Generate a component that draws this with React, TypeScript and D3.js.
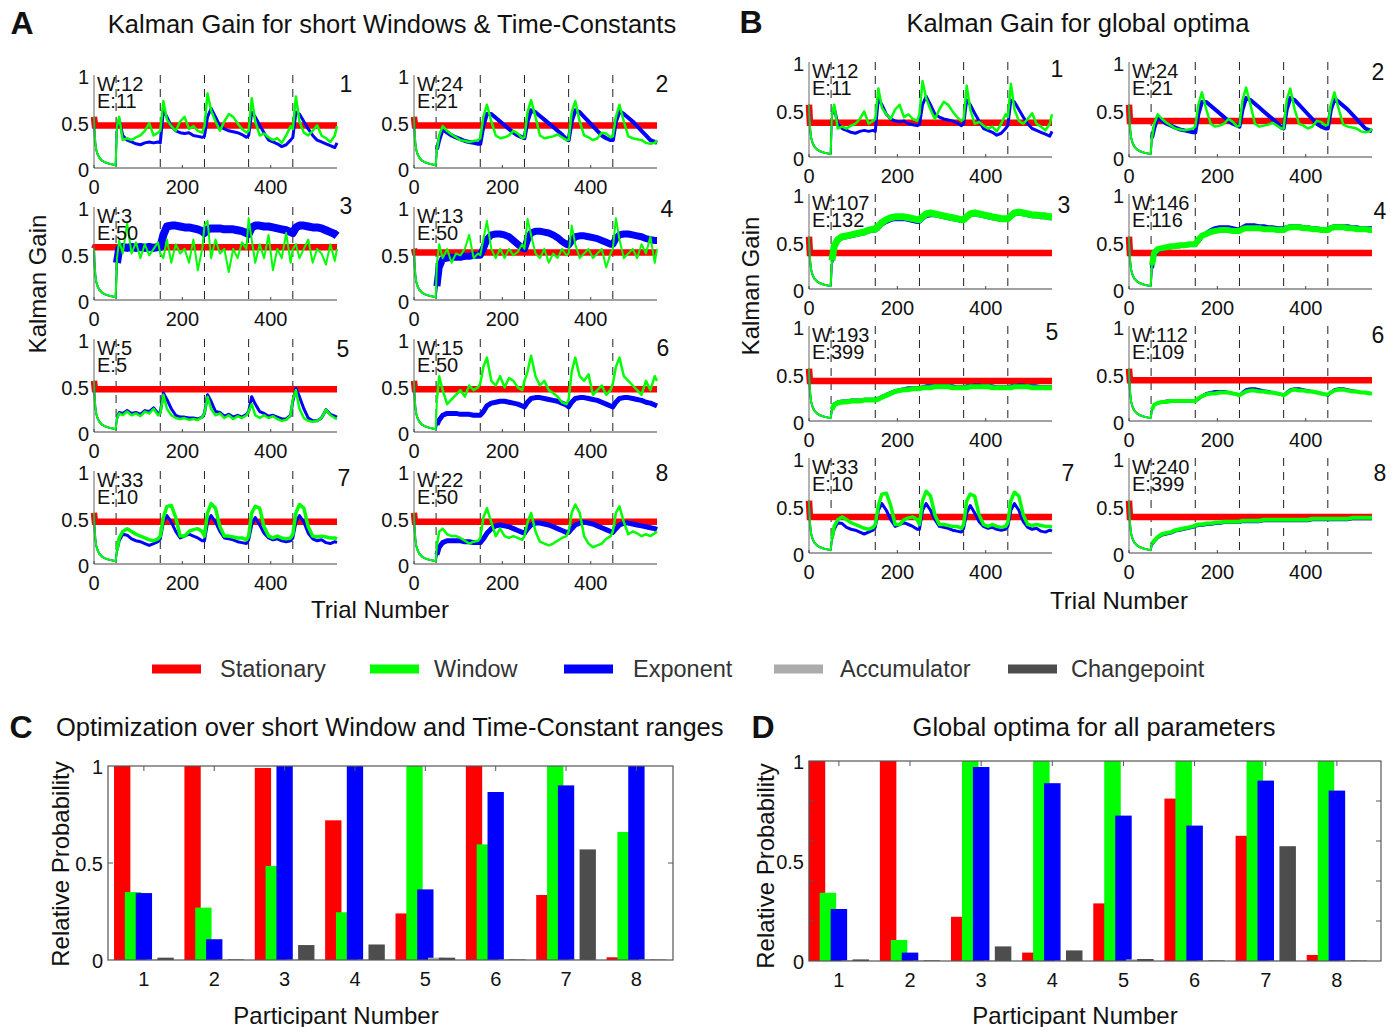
import React from 'react';
import * as d3 from 'd3';

const FONT = '"Liberation Sans", Arial, Helvetica, sans-serif';
const COL_STAT = '#ff0000';
const COL_WIN = '#00ff00';
const COL_EXP = '#0000ff';
const COL_ACC = '#acacac';
const COL_CP = '#4d4d4d';

// ---------- time-series data ----------
const TRIAL_MAX = 550;
const CHANGE_POINTS = [50, 150, 250, 350, 450];
const X_TICKS = [0, 200, 400];
const Y_TICKS = [0, 0.5, 1];
const Y_TICK_LABELS = ['0', '0.5', '1'];

const INIT_TRIALS = [0, 1, 2, 3, 5, 8, 12, 18, 25, 35, 49];
const INIT_GAIN = [0.55, 0.42, 0.33, 0.27, 0.2, 0.15, 0.11, 0.08, 0.06, 0.045, 0.03];
const STAT_START = 0.55;

const BLOCK_TRIALS = [
  52, 57, 65, 75, 85, 95, 105, 115, 125, 135, 145, 150,
  157, 165, 175, 185, 195, 205, 215, 225, 235, 245, 250,
  257, 265, 275, 285, 295, 305, 315, 325, 335, 345, 350,
  357, 365, 375, 385, 395, 405, 415, 425, 435, 445, 450,
  457, 465, 475, 485, 495, 505, 515, 525, 535, 545, 550,
];

const A_PARAMS = [['W:12', 'E:11'], ['W:24', 'E:21'], ['W:3', 'E:50'], ['W:13', 'E:50'], ['W:5', 'E:5'], ['W:15', 'E:50'], ['W:33', 'E:10'], ['W:22', 'E:50']];
const B_PARAMS = [['W:12', 'E:11'], ['W:24', 'E:21'], ['W:107', 'E:132'], ['W:146', 'E:116'], ['W:193', 'E:399'], ['W:112', 'E:109'], ['W:33', 'E:10'], ['W:240', 'E:399']];

const A_STATIONARY = [0.457, 0.457, 0.567, 0.51, 0.46, 0.46, 0.454, 0.454];
const B_STATIONARY = [0.36, 0.38, 0.38, 0.38, 0.42, 0.43, 0.38, 0.38];

const WIN_12 = [
  0.45, 0.55, 0.30, 0.32, 0.30, 0.33, 0.35, 0.40, 0.48, 0.35, 0.38, 0.40,
  0.72, 0.52, 0.45, 0.40, 0.50, 0.55, 0.42, 0.45, 0.40, 0.38, 0.45,
  0.80, 0.62, 0.50, 0.40, 0.50, 0.58, 0.55, 0.48, 0.42, 0.38, 0.40,
  0.75, 0.50, 0.35, 0.37, 0.33, 0.30, 0.32, 0.27, 0.35, 0.45, 0.42,
  0.77, 0.50, 0.38, 0.35, 0.40, 0.46, 0.35, 0.32, 0.28, 0.35, 0.45,
];
const EXP_11 = [
  0.45, 0.52, 0.35, 0.30, 0.28, 0.26, 0.25, 0.27, 0.28, 0.27, 0.28, 0.27,
  0.62, 0.55, 0.45, 0.40, 0.38, 0.37, 0.38, 0.35, 0.34, 0.33, 0.34,
  0.55, 0.64, 0.55, 0.45, 0.42, 0.40, 0.39, 0.38, 0.36, 0.33, 0.35,
  0.60, 0.55, 0.46, 0.38, 0.30, 0.28, 0.26, 0.23, 0.25, 0.30, 0.33,
  0.60, 0.58, 0.50, 0.42, 0.35, 0.30, 0.28, 0.26, 0.24, 0.22, 0.27,
];
const WIN_24 = [
  0.20, 0.35, 0.45, 0.40, 0.36, 0.33, 0.30, 0.29, 0.28, 0.29, 0.30, 0.32,
  0.55, 0.68, 0.50, 0.35, 0.32, 0.33, 0.35, 0.40, 0.37, 0.32, 0.33,
  0.60, 0.73, 0.55, 0.35, 0.32, 0.33, 0.34, 0.36, 0.33, 0.30, 0.30,
  0.60, 0.72, 0.50, 0.35, 0.33, 0.30, 0.32, 0.38, 0.37, 0.33, 0.34,
  0.55, 0.68, 0.50, 0.34, 0.32, 0.31, 0.30, 0.27, 0.26, 0.27, 0.30,
];
const EXP_21 = [
  0.20, 0.30, 0.42, 0.38, 0.35, 0.33, 0.31, 0.29, 0.28, 0.27, 0.26, 0.26,
  0.45, 0.58, 0.58, 0.54, 0.50, 0.46, 0.42, 0.38, 0.35, 0.33, 0.32,
  0.50, 0.62, 0.60, 0.56, 0.52, 0.48, 0.44, 0.40, 0.36, 0.31, 0.30,
  0.50, 0.62, 0.60, 0.55, 0.50, 0.45, 0.40, 0.35, 0.32, 0.30, 0.30,
  0.50, 0.61, 0.58, 0.54, 0.50, 0.45, 0.40, 0.35, 0.30, 0.28, 0.27,
];
const WIN_3 = [
  0.45, 0.64, 0.50, 0.83, 0.50, 0.62, 0.45, 0.60, 0.48, 0.55, 0.62, 0.50,
  0.45, 0.65, 0.40, 0.60, 0.50, 0.55, 0.40, 0.65, 0.32, 0.55, 0.80,
  0.85, 0.45, 0.65, 0.50, 0.55, 0.30, 0.55, 0.45, 0.62, 0.55, 0.88,
  0.65, 0.40, 0.60, 0.45, 0.70, 0.32, 0.55, 0.45, 0.72, 0.40, 0.55,
  0.60, 0.45, 0.55, 0.65, 0.40, 0.55, 0.50, 0.38, 0.60, 0.42, 0.55,
];
const EXP_50_P3 = [
  0.40, 0.55, 0.57, 0.56, 0.57, 0.56, 0.57, 0.56, 0.57, 0.56, 0.57, 0.57,
  0.70, 0.79, 0.80, 0.80, 0.79, 0.78, 0.78, 0.77, 0.76, 0.74, 0.72,
  0.76, 0.77, 0.77, 0.77, 0.76, 0.76, 0.76, 0.75, 0.74, 0.72, 0.71,
  0.78, 0.80, 0.80, 0.79, 0.79, 0.78, 0.77, 0.76, 0.75, 0.73, 0.72,
  0.78, 0.80, 0.80, 0.79, 0.78, 0.78, 0.77, 0.75, 0.73, 0.71, 0.69,
];
const WIN_13 = [
  0.40, 0.60, 0.45, 0.55, 0.40, 0.50, 0.48, 0.55, 0.70, 0.45, 0.50, 0.48,
  0.65, 0.85, 0.55, 0.45, 0.55, 0.45, 0.55, 0.48, 0.52, 0.60, 0.55,
  0.87, 0.70, 0.50, 0.45, 0.55, 0.40, 0.50, 0.45, 0.55, 0.48, 0.50,
  0.80, 0.60, 0.45, 0.50, 0.55, 0.45, 0.50, 0.55, 0.35, 0.50, 0.55,
  0.88, 0.65, 0.45, 0.50, 0.55, 0.45, 0.60, 0.50, 0.68, 0.40, 0.55,
];
const EXP_50_P4 = [
  0.15, 0.35, 0.44, 0.45, 0.46, 0.46, 0.46, 0.47, 0.47, 0.48, 0.48, 0.48,
  0.55, 0.65, 0.70, 0.71, 0.71, 0.70, 0.68, 0.64, 0.60, 0.56, 0.55,
  0.65, 0.72, 0.74, 0.74, 0.73, 0.72, 0.70, 0.67, 0.63, 0.60, 0.59,
  0.64, 0.68, 0.69, 0.69, 0.68, 0.67, 0.66, 0.64, 0.62, 0.60, 0.60,
  0.66, 0.70, 0.71, 0.71, 0.70, 0.69, 0.68, 0.66, 0.65, 0.64, 0.64,
];
const WIN_5 = [
  0.15, 0.20, 0.18, 0.22, 0.18, 0.20, 0.17, 0.22, 0.20, 0.25, 0.18, 0.20,
  0.40, 0.25, 0.18, 0.15, 0.14, 0.15, 0.13, 0.14, 0.13, 0.16, 0.20,
  0.38, 0.25, 0.18, 0.20, 0.15, 0.18, 0.14, 0.17, 0.15, 0.18, 0.22,
  0.30, 0.18, 0.15, 0.18, 0.15, 0.17, 0.14, 0.12, 0.13, 0.18, 0.35,
  0.45, 0.25, 0.15, 0.12, 0.11, 0.12, 0.15, 0.24, 0.18, 0.15, 0.14,
];
const EXP_5 = [
  0.15, 0.21, 0.20, 0.23, 0.20, 0.21, 0.19, 0.23, 0.22, 0.26, 0.20, 0.21,
  0.42, 0.35, 0.25, 0.18, 0.16, 0.16, 0.15, 0.15, 0.14, 0.16, 0.20,
  0.40, 0.33, 0.22, 0.21, 0.17, 0.19, 0.16, 0.18, 0.16, 0.19, 0.22,
  0.38, 0.30, 0.22, 0.20, 0.17, 0.18, 0.16, 0.14, 0.14, 0.18, 0.33,
  0.47, 0.38, 0.25, 0.15, 0.12, 0.12, 0.15, 0.24, 0.19, 0.17, 0.16,
];
const WIN_15 = [
  0.35, 0.60, 0.45, 0.30, 0.35, 0.40, 0.45, 0.38, 0.50, 0.45, 0.48, 0.52,
  0.70, 0.80, 0.55, 0.50, 0.60, 0.48, 0.58, 0.55, 0.48, 0.45, 0.55,
  0.65, 0.82, 0.60, 0.50, 0.55, 0.45, 0.42, 0.38, 0.32, 0.30, 0.35,
  0.65, 0.80, 0.60, 0.55, 0.62, 0.40, 0.45, 0.50, 0.40, 0.45, 0.52,
  0.70, 0.80, 0.60, 0.55, 0.50, 0.45, 0.40, 0.55, 0.45, 0.60, 0.55,
];
const EXP_50_P6 = [
  0.08, 0.13, 0.18, 0.20, 0.20, 0.20, 0.19, 0.19, 0.19, 0.18, 0.18, 0.18,
  0.22, 0.28, 0.31, 0.32, 0.33, 0.33, 0.32, 0.31, 0.30, 0.28, 0.27,
  0.32, 0.36, 0.37, 0.37, 0.36, 0.35, 0.34, 0.33, 0.31, 0.29, 0.27,
  0.32, 0.36, 0.37, 0.37, 0.36, 0.35, 0.34, 0.32, 0.30, 0.28, 0.27,
  0.32, 0.36, 0.37, 0.37, 0.36, 0.35, 0.34, 0.32, 0.31, 0.29, 0.28,
];
const WIN_33 = [
  0.15, 0.28, 0.35, 0.38, 0.35, 0.32, 0.30, 0.28, 0.26, 0.25, 0.27, 0.30,
  0.50, 0.62, 0.63, 0.50, 0.30, 0.30, 0.35, 0.37, 0.38, 0.35, 0.30,
  0.55, 0.65, 0.60, 0.40, 0.30, 0.30, 0.29, 0.28, 0.28, 0.26, 0.30,
  0.55, 0.62, 0.60, 0.40, 0.30, 0.28, 0.30, 0.28, 0.27, 0.28, 0.32,
  0.55, 0.64, 0.60, 0.40, 0.30, 0.29, 0.30, 0.29, 0.28, 0.28, 0.27,
];
const EXP_10 = [
  0.15, 0.25, 0.32, 0.31, 0.27, 0.25, 0.24, 0.22, 0.20, 0.22, 0.24, 0.27,
  0.45, 0.52, 0.45, 0.35, 0.28, 0.30, 0.32, 0.30, 0.28, 0.25, 0.25,
  0.45, 0.52, 0.45, 0.35, 0.28, 0.27, 0.26, 0.24, 0.23, 0.22, 0.26,
  0.42, 0.50, 0.42, 0.33, 0.28, 0.26, 0.27, 0.25, 0.24, 0.25, 0.28,
  0.45, 0.52, 0.45, 0.33, 0.27, 0.25, 0.26, 0.23, 0.22, 0.24, 0.23,
];
const WIN_22 = [
  0.20, 0.35, 0.38, 0.32, 0.30, 0.30, 0.28, 0.25, 0.22, 0.24, 0.25, 0.28,
  0.50, 0.60, 0.45, 0.30, 0.38, 0.30, 0.28, 0.30, 0.28, 0.26, 0.30,
  0.45, 0.55, 0.35, 0.24, 0.22, 0.20, 0.22, 0.25, 0.28, 0.30, 0.35,
  0.55, 0.64, 0.55, 0.30, 0.22, 0.18, 0.20, 0.22, 0.27, 0.30, 0.35,
  0.55, 0.62, 0.45, 0.32, 0.35, 0.33, 0.30, 0.32, 0.30, 0.33, 0.35,
];
const EXP_50_P8 = [
  0.10, 0.18, 0.23, 0.25, 0.25, 0.25, 0.25, 0.24, 0.24, 0.23, 0.23, 0.23,
  0.27, 0.33, 0.38, 0.41, 0.42, 0.41, 0.40, 0.38, 0.36, 0.34, 0.33,
  0.38, 0.42, 0.44, 0.44, 0.43, 0.42, 0.40, 0.38, 0.36, 0.34, 0.34,
  0.38, 0.42, 0.44, 0.45, 0.44, 0.43, 0.41, 0.39, 0.37, 0.35, 0.34,
  0.38, 0.42, 0.44, 0.44, 0.43, 0.42, 0.41, 0.40, 0.39, 0.38, 0.37,
];
const WIN_107 = [
  0.30, 0.45, 0.52, 0.55, 0.56, 0.57, 0.58, 0.59, 0.60, 0.62, 0.63, 0.63,
  0.66, 0.70, 0.73, 0.75, 0.76, 0.76, 0.76, 0.75, 0.74, 0.73, 0.73,
  0.76, 0.79, 0.80, 0.79, 0.78, 0.77, 0.76, 0.75, 0.74, 0.73, 0.73,
  0.76, 0.79, 0.80, 0.79, 0.78, 0.77, 0.76, 0.75, 0.74, 0.74, 0.74,
  0.77, 0.80, 0.81, 0.80, 0.79, 0.78, 0.78, 0.77, 0.77, 0.76, 0.76,
];
const EXP_132 = [
  0.28, 0.42, 0.50, 0.53, 0.54, 0.55, 0.56, 0.57, 0.58, 0.60, 0.61, 0.61,
  0.63, 0.67, 0.70, 0.72, 0.73, 0.73, 0.73, 0.72, 0.71, 0.70, 0.70,
  0.73, 0.76, 0.77, 0.77, 0.76, 0.75, 0.74, 0.73, 0.72, 0.71, 0.71,
  0.74, 0.77, 0.78, 0.77, 0.76, 0.75, 0.74, 0.73, 0.72, 0.72, 0.72,
  0.75, 0.78, 0.79, 0.78, 0.77, 0.76, 0.76, 0.75, 0.75, 0.74, 0.74,
];
const WIN_146 = [
  0.25, 0.38, 0.42, 0.43, 0.44, 0.45, 0.45, 0.46, 0.46, 0.47, 0.47, 0.47,
  0.52, 0.56, 0.58, 0.60, 0.61, 0.62, 0.62, 0.62, 0.61, 0.61, 0.61,
  0.63, 0.64, 0.64, 0.64, 0.64, 0.63, 0.63, 0.63, 0.62, 0.62, 0.62,
  0.64, 0.65, 0.65, 0.65, 0.64, 0.64, 0.63, 0.63, 0.62, 0.62, 0.62,
  0.64, 0.65, 0.65, 0.65, 0.64, 0.64, 0.63, 0.63, 0.63, 0.62, 0.62,
];
const EXP_116 = [
  0.22, 0.35, 0.40, 0.42, 0.43, 0.44, 0.45, 0.45, 0.46, 0.46, 0.47, 0.47,
  0.50, 0.55, 0.59, 0.62, 0.64, 0.65, 0.65, 0.65, 0.64, 0.63, 0.63,
  0.65, 0.67, 0.67, 0.67, 0.66, 0.66, 0.65, 0.65, 0.64, 0.64, 0.64,
  0.65, 0.66, 0.66, 0.66, 0.65, 0.65, 0.64, 0.64, 0.63, 0.63, 0.63,
  0.65, 0.66, 0.66, 0.66, 0.66, 0.65, 0.65, 0.64, 0.64, 0.64, 0.64,
];
const WIN_193 = [
  0.12, 0.17, 0.19, 0.20, 0.20, 0.21, 0.21, 0.21, 0.22, 0.22, 0.22, 0.22,
  0.23, 0.25, 0.27, 0.29, 0.31, 0.32, 0.33, 0.33, 0.34, 0.34, 0.34,
  0.35, 0.35, 0.35, 0.36, 0.36, 0.36, 0.36, 0.35, 0.35, 0.35, 0.35,
  0.35, 0.36, 0.36, 0.36, 0.36, 0.36, 0.35, 0.35, 0.35, 0.35, 0.35,
  0.35, 0.36, 0.36, 0.36, 0.36, 0.35, 0.35, 0.35, 0.35, 0.35, 0.35,
];
const EXP_399_P5 = [
  0.12, 0.18, 0.20, 0.21, 0.21, 0.22, 0.22, 0.22, 0.23, 0.23, 0.23, 0.23,
  0.24, 0.26, 0.28, 0.30, 0.32, 0.33, 0.34, 0.35, 0.35, 0.35, 0.35,
  0.36, 0.37, 0.37, 0.37, 0.37, 0.37, 0.37, 0.37, 0.36, 0.36, 0.36,
  0.37, 0.37, 0.38, 0.38, 0.37, 0.37, 0.37, 0.36, 0.36, 0.36, 0.36,
  0.37, 0.37, 0.38, 0.38, 0.37, 0.37, 0.37, 0.36, 0.36, 0.36, 0.36,
];
const WIN_112 = [
  0.12, 0.17, 0.19, 0.20, 0.20, 0.21, 0.21, 0.21, 0.21, 0.21, 0.21, 0.21,
  0.24, 0.26, 0.28, 0.29, 0.29, 0.30, 0.30, 0.30, 0.29, 0.28, 0.27,
  0.29, 0.31, 0.32, 0.32, 0.31, 0.31, 0.30, 0.30, 0.29, 0.28, 0.27,
  0.29, 0.32, 0.33, 0.32, 0.32, 0.31, 0.31, 0.30, 0.29, 0.28, 0.28,
  0.30, 0.32, 0.33, 0.33, 0.32, 0.31, 0.31, 0.30, 0.30, 0.29, 0.29,
];
const EXP_109 = [
  0.12, 0.17, 0.19, 0.20, 0.21, 0.21, 0.21, 0.21, 0.21, 0.21, 0.21, 0.21,
  0.23, 0.26, 0.29, 0.30, 0.31, 0.31, 0.31, 0.30, 0.29, 0.28, 0.27,
  0.30, 0.33, 0.34, 0.34, 0.33, 0.32, 0.31, 0.30, 0.29, 0.28, 0.27,
  0.30, 0.33, 0.34, 0.34, 0.33, 0.32, 0.31, 0.30, 0.29, 0.28, 0.27,
  0.30, 0.33, 0.34, 0.34, 0.33, 0.32, 0.31, 0.30, 0.30, 0.29, 0.29,
];
const WIN_240 = [
  0.10, 0.13, 0.17, 0.20, 0.21, 0.22, 0.24, 0.25, 0.26, 0.27, 0.28, 0.29,
  0.30, 0.30, 0.31, 0.31, 0.32, 0.32, 0.33, 0.33, 0.33, 0.33, 0.33,
  0.34, 0.34, 0.34, 0.34, 0.34, 0.35, 0.35, 0.35, 0.35, 0.35, 0.35,
  0.35, 0.35, 0.35, 0.35, 0.35, 0.35, 0.36, 0.36, 0.36, 0.36, 0.36,
  0.36, 0.36, 0.36, 0.36, 0.36, 0.37, 0.37, 0.37, 0.37, 0.37, 0.37,
];
const EXP_399_P8 = [
  0.09, 0.12, 0.16, 0.19, 0.20, 0.21, 0.23, 0.24, 0.25, 0.26, 0.27, 0.28,
  0.29, 0.29, 0.30, 0.30, 0.31, 0.31, 0.32, 0.32, 0.32, 0.32, 0.32,
  0.33, 0.33, 0.33, 0.33, 0.33, 0.34, 0.34, 0.34, 0.34, 0.34, 0.34,
  0.34, 0.34, 0.34, 0.34, 0.34, 0.34, 0.35, 0.35, 0.35, 0.35, 0.35,
  0.35, 0.35, 0.35, 0.35, 0.35, 0.36, 0.36, 0.36, 0.36, 0.36, 0.36,
];

const A_WINDOW = [WIN_12, WIN_24, WIN_3, WIN_13, WIN_5, WIN_15, WIN_33, WIN_22];
const A_EXPONENT = [EXP_11, EXP_21, EXP_50_P3, EXP_50_P4, EXP_5, EXP_50_P6, EXP_10, EXP_50_P8];
const B_WINDOW = [WIN_12, WIN_24, WIN_107, WIN_146, WIN_193, WIN_112, WIN_33, WIN_240];
const B_EXPONENT = [EXP_11, EXP_21, EXP_132, EXP_116, EXP_399_P5, EXP_109, EXP_10, EXP_399_P8];

// ---------- bar data ----------
const PARTICIPANTS = [1, 2, 3, 4, 5, 6, 7, 8];
const C_STATIONARY = [1.0, 1.0, 0.99, 0.72, 0.24, 1.0, 0.335, 0.014];
const C_WINDOW = [0.35, 0.27, 0.485, 0.246, 1.0, 0.596, 1.0, 0.66];
const C_EXPONENT = [0.345, 0.107, 1.0, 1.0, 0.364, 0.866, 0.9, 1.0];
const C_ACCUMULATOR = [0.002, 0.002, 0.002, 0.002, 0.012, 0.003, 0.002, 0.003];
const C_CHANGEPOINT = [0.012, 0.003, 0.077, 0.08, 0.012, 0.003, 0.57, 0.002];
const D_STATIONARY = [1.0, 1.0, 0.221, 0.042, 0.288, 0.812, 0.626, 0.03];
const D_WINDOW = [0.341, 0.105, 1.0, 1.0, 1.0, 1.0, 1.0, 1.0];
const D_EXPONENT = [0.26, 0.042, 0.97, 0.889, 0.727, 0.677, 0.902, 0.852];
const D_ACCUMULATOR = [0.003, 0.002, 0.002, 0.002, 0.008, 0.002, 0.002, 0.002];
const D_CHANGEPOINT = [0.008, 0.003, 0.073, 0.053, 0.01, 0.003, 0.574, 0.002];

const LEGEND_LABELS = ['Stationary', 'Window', 'Exponent', 'Accumulator', 'Changepoint'];
const LEGEND_COLORS = [COL_STAT, COL_WIN, COL_EXP, COL_ACC, COL_CP];

// ---------- layout ----------
const A_COLS = [94, 414];
const A_ROWS = [75, 207, 339, 471];
const A_H = 93;
const B_COLS = [809, 1129];
const B_ROWS = [62, 194, 326, 458];
const B_H = 95;
const SUB_W = 243;
const A_NUM_OFF = [[9, 9], [5, 9], [9, -1], [10, 2], [6, 10], [6, 9], [7, 7], [5, 2]];
const B_NUM_OFF = [[5, 7], [6, 10], [12, 11], [8, 17], [0, 6], [6, 9], [16, 15], [8, 15]];
const A_EXP_W = [3, 4, 8, 7, 3, 5, 3, 5];
const A_WIN_W = [2.5, 2.5, 2, 2, 2.5, 2.5, 3.5, 2.5];
const B_EXP_W = [3, 4, 3, 4, 3, 3, 3, 3];
const B_WIN_W = [2.5, 2.5, 7, 6, 5, 4, 3.5, 4];
const LEGEND_LINE_X = [152, 370, 564, 774, 1008];
const LEGEND_TEXT_X = [220, 434, 633, 840, 1071];
const TICK_FS = 20;
const LABEL_FS = 24;
const TITLE_FS = 25.5;
const LETTER_FS = 32;

type Pt = [number, number];

function initPoints(values: number[]): Pt[] {
  const init: Pt[] = INIT_TRIALS.map((t, i) => [t, INIT_GAIN[i]]);
  return init.concat([[BLOCK_TRIALS[0], values[0]]]);
}
function blockPoints(values: number[]): Pt[] {
  return BLOCK_TRIALS.map((t, i) => [t, values[i]] as Pt);
}

function Subplot(props: {
  x0: number; top: number; h: number; win: number[]; exp: number[]; stat: number;
  params: string[]; num: number; numOff: number[]; winW: number; expW: number;
}) {
  const { x0, top, h, win, exp, stat, params, num, numOff, winW, expW } = props;
  const x = d3.scaleLinear().domain([0, TRIAL_MAX]).range([x0, x0 + SUB_W]);
  const y = d3.scaleLinear().domain([0, 1]).range([top + h, top]);
  const line = d3.line<Pt>().x((d) => x(d[0])).y((d) => y(d[1]));
  const statPts: Pt[] = [[0, STAT_START], [2, stat], [TRIAL_MAX, stat]];
  return (
    <g>
      {CHANGE_POINTS.map((c) => (
        <line key={c} x1={x(c)} x2={x(c)} y1={y(1)} y2={y(0)} stroke="#222" strokeWidth={1} strokeDasharray="8,6" />
      ))}
      <path d={line(statPts) || ''} fill="none" stroke={COL_STAT} strokeWidth={6.5} />
      <path d={line(initPoints(exp)) || ''} fill="none" stroke={COL_EXP} strokeWidth={2} strokeLinejoin="round" />
      <path d={line(blockPoints(exp)) || ''} fill="none" stroke={COL_EXP} strokeWidth={expW} strokeLinejoin="round" />
      <path d={line(initPoints(win)) || ''} fill="none" stroke={COL_WIN} strokeWidth={2} strokeLinejoin="round" />
      <path d={line(blockPoints(win)) || ''} fill="none" stroke={COL_WIN} strokeWidth={winW} strokeLinejoin="round" />
      <line x1={x0} x2={x0} y1={y(1)} y2={y(0)} stroke="#666" strokeWidth={1} />
      <line x1={x0} x2={x0 + SUB_W} y1={y(0)} y2={y(0)} stroke="#444" strokeWidth={1.2} />
      {X_TICKS.map((t) => (
        <g key={t}>
          <line x1={x(t)} x2={x(t)} y1={y(0)} y2={y(0) - 3} stroke="#444" />
          <text x={x(t)} y={y(0) + 19} textAnchor="middle" dominantBaseline="central" fontSize={TICK_FS} fill="#111">{t}</text>
        </g>
      ))}
      {Y_TICKS.map((t, i) => (
        <text key={t} x={x0 - 5} y={y(t) + 2} textAnchor="end" dominantBaseline="central" fontSize={TICK_FS} fill="#111">{Y_TICK_LABELS[i]}</text>
      ))}
      <text x={x0 + 3} y={top + 9} dominantBaseline="central" fontSize={20} fill="#111">{params[0]}</text>
      <text x={x0 + 3} y={top + 26} dominantBaseline="central" fontSize={20} fill="#111">{params[1]}</text>
      <text x={x0 + SUB_W + numOff[0]} y={top + numOff[1]} textAnchor="middle" dominantBaseline="central" fontSize={23} fill="#111">{num}</text>
    </g>
  );
}

function BarPanel(props: {
  left: number; right: number; top: number; bottom: number; domain: number[];
  series: number[][]; fineTicks: boolean;
}) {
  const { left, right, top, bottom, domain, series, fineTicks } = props;
  const x = d3.scaleLinear().domain(domain).range([left, right]);
  const y = d3.scaleLinear().domain([0, 1]).range([bottom, top]);
  const offset = 0.154;
  const bw = 0.232;
  const tickVals = fineTicks ? [0.2, 0.4, 0.6, 0.8] : [0.5];
  return (
    <g>
      {series.map((vals, s) =>
        PARTICIPANTS.map((p, i) => {
          const c = p + (s - 2) * offset;
          const x1 = x(c - bw / 2);
          const x2 = x(c + bw / 2);
          return (
            <rect key={s + '-' + i} x={x1} width={x2 - x1} y={y(vals[i])} height={y(0) - y(vals[i])} fill={LEGEND_COLORS[s]} />
          );
        })
      )}
      <rect x={left} y={top} width={right - left} height={bottom - top} fill="none" stroke="#555" strokeWidth={1.2} />
      {PARTICIPANTS.map((p) => (
        <g key={p}>
          <line x1={x(p)} x2={x(p)} y1={top} y2={top + 5} stroke="#555" />
          <text x={x(p)} y={bottom + 19} textAnchor="middle" dominantBaseline="central" fontSize={TICK_FS} fill="#111">{p}</text>
        </g>
      ))}
      {tickVals.map((t) => (
        <g key={t}>
          <line x1={left} x2={left + 5} y1={y(t)} y2={y(t)} stroke="#555" />
          <line x1={right} x2={right - 5} y1={y(t)} y2={y(t)} stroke="#555" />
        </g>
      ))}
      {Y_TICKS.map((t, i) => (
        <text key={t} x={left - 5} y={y(t) + 1} textAnchor="end" dominantBaseline="central" fontSize={TICK_FS} fill="#111">{Y_TICK_LABELS[i]}</text>
      ))}
    </g>
  );
}

export default function App() {
  const subA = A_WINDOW.map((w, i) => ({
    x0: A_COLS[i % 2], top: A_ROWS[Math.floor(i / 2)], win: w, exp: A_EXPONENT[i], stat: A_STATIONARY[i], params: A_PARAMS[i],
  }));
  const subB = B_WINDOW.map((w, i) => ({
    x0: B_COLS[i % 2], top: B_ROWS[Math.floor(i / 2)], win: w, exp: B_EXPONENT[i], stat: B_STATIONARY[i], params: B_PARAMS[i],
  }));
  return (
    <svg width={1399} height={1027} style={{ position: 'absolute', left: 0, top: 0, fontFamily: FONT }}>
      <rect x={0} y={0} width={1399} height={1027} fill="#fff" />
      {/* Panel titles */}
      <text x={22} y={34} textAnchor="middle" fontSize={LETTER_FS} fontWeight="bold" fill="#111">A</text>
      <text x={392} y={33} textAnchor="middle" fontSize={TITLE_FS} fill="#111">Kalman Gain for short Windows &amp; Time-Constants</text>
      <text x={751} y={33} textAnchor="middle" fontSize={LETTER_FS} fontWeight="bold" fill="#111">B</text>
      <text x={1078} y={32} textAnchor="middle" fontSize={TITLE_FS} fill="#111">Kalman Gain for global optima</text>

      {subA.map((s, i) => (
        <Subplot key={'a' + i} x0={s.x0} top={s.top} h={A_H} win={s.win} exp={s.exp} stat={s.stat} params={s.params}
          num={i + 1} numOff={A_NUM_OFF[i]} winW={A_WIN_W[i]} expW={A_EXP_W[i]} />
      ))}
      {subB.map((s, i) => (
        <Subplot key={'b' + i} x0={s.x0} top={s.top} h={B_H} win={s.win} exp={s.exp} stat={s.stat} params={s.params}
          num={i + 1} numOff={B_NUM_OFF[i]} winW={B_WIN_W[i]} expW={B_EXP_W[i]} />
      ))}

      <text transform="translate(37,284) rotate(-90)" textAnchor="middle" dominantBaseline="central" fontSize={LABEL_FS} fill="#111">Kalman Gain</text>
      <text transform="translate(750,286) rotate(-90)" textAnchor="middle" dominantBaseline="central" fontSize={LABEL_FS} fill="#111">Kalman Gain</text>
      <text x={380} y={609} textAnchor="middle" dominantBaseline="central" fontSize={LABEL_FS} fill="#111">Trial Number</text>
      <text x={1119} y={600} textAnchor="middle" dominantBaseline="central" fontSize={LABEL_FS} fill="#111">Trial Number</text>

      {/* Legend */}
      {LEGEND_LABELS.map((l, i) => (
        <g key={l}>
          <line x1={LEGEND_LINE_X[i]} x2={LEGEND_LINE_X[i] + 49} y1={669} y2={669} stroke={LEGEND_COLORS[i]} strokeWidth={9} />
          <text x={LEGEND_TEXT_X[i]} y={669} dominantBaseline="central" fontSize={23.5} fill="#333">{l}</text>
        </g>
      ))}

      {/* Panel C */}
      <text x={21} y={738} textAnchor="middle" fontSize={LETTER_FS} fontWeight="bold" fill="#111">C</text>
      <text x={56} y={736} fontSize={TITLE_FS} fill="#111">Optimization over short Window and Time-Constant ranges</text>
      <BarPanel left={108} right={673} top={766} bottom={960} domain={[0.49, 8.52]}
        series={[C_STATIONARY, C_WINDOW, C_EXPONENT, C_ACCUMULATOR, C_CHANGEPOINT]} fineTicks={false} />
      <text transform="translate(60,864) rotate(-90)" textAnchor="middle" dominantBaseline="central" fontSize={LABEL_FS} fill="#111">Relative Probability</text>
      <text x={336} y={1015} textAnchor="middle" dominantBaseline="central" fontSize={LABEL_FS} fill="#111">Participant Number</text>

      {/* Panel D */}
      <text x={763} y={738} textAnchor="middle" fontSize={LETTER_FS} fontWeight="bold" fill="#111">D</text>
      <text x={1094} y={736} textAnchor="middle" fontSize={TITLE_FS} fill="#111">Global optima for all parameters</text>
      <BarPanel left={809} right={1381} top={761} bottom={961} domain={[0.58, 8.62]}
        series={[D_STATIONARY, D_WINDOW, D_EXPONENT, D_ACCUMULATOR, D_CHANGEPOINT]} fineTicks={true} />
      <text transform="translate(765,866) rotate(-90)" textAnchor="middle" dominantBaseline="central" fontSize={LABEL_FS} fill="#111">Relative Probability</text>
      <text x={1075} y={1015} textAnchor="middle" dominantBaseline="central" fontSize={LABEL_FS} fill="#111">Participant Number</text>
    </svg>
  );
}
